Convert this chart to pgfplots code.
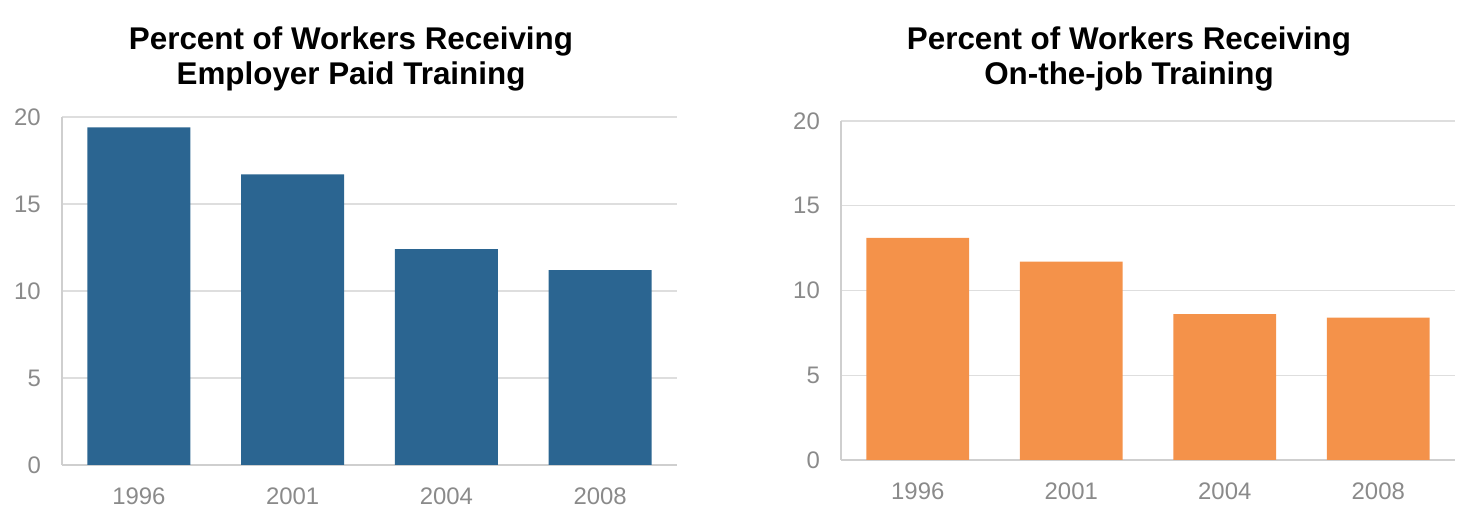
\documentclass[border=0pt]{standalone}
\usepackage{pgfplots}
\pgfplotsset{compat=1.18}
\usepackage{fontspec}
\setmainfont{Liberation Sans}

\definecolor{barblue}{HTML}{2B6591}
\definecolor{barorange}{HTML}{F4924A}
\definecolor{gridgray}{HTML}{DEDEDE}
\definecolor{axisgray}{HTML}{CFCFCF}
\definecolor{labelgray}{HTML}{8A8A8A}

\pgfplotsset{
  trainbars/.style={
    scale only axis,
    ybar, bar width=0.67,
    xmin=-0.5, xmax=3.5, ymin=0, ymax=20,
    xtick={0,1,2,3}, xticklabels={1996,2001,2004,2008},
    ytick={0,5,10,15,20},
    axis x line*=bottom, axis y line*=left,
    axis line style={-, axisgray, line width=1.5bp},
    ymajorgrids, grid style={gridgray, line width=1.2bp},
    major tick length=0pt,
    tick label style={labelgray, font=\fontsize{24}{28}\selectfont},
    /pgf/number format/assume math mode=true,
    yticklabel style={inner sep=0pt, xshift=-21bp},
    xticklabel style={inner sep=0pt, yshift=-23bp},
  }
}

\begin{document}
\begin{tikzpicture}[x=1bp, y=1bp]
\useasboundingbox (0,0) rectangle (1480,517);

% left panel
\node[anchor=base, font=\bfseries\fontsize{31.5}{36}\selectfont] at (351,467) {Percent of Workers Receiving};
\node[anchor=base, font=\bfseries\fontsize{31.5}{36}\selectfont] at (351,432) {Employer Paid Training};
\begin{axis}[trainbars, at={(62bp,52bp)}, anchor=south west, width=615bp, height=348bp]
  \addplot[fill=barblue, draw=none] coordinates {(0,19.4) (1,16.7) (2,12.4) (3,11.2)};
\end{axis}

% right panel
\node[anchor=base, font=\bfseries\fontsize{31.5}{36}\selectfont] at (1129,467) {Percent of Workers Receiving};
\node[anchor=base, font=\bfseries\fontsize{31.5}{36}\selectfont] at (1129,432) {On-the-job Training};
\begin{axis}[trainbars, at={(841bp,57bp)}, anchor=south west, width=614bp, height=339bp]
  \addplot[fill=barorange, draw=none] coordinates {(0,13.1) (1,11.7) (2,8.6) (3,8.4)};
\end{axis}
\end{tikzpicture}
\end{document}
